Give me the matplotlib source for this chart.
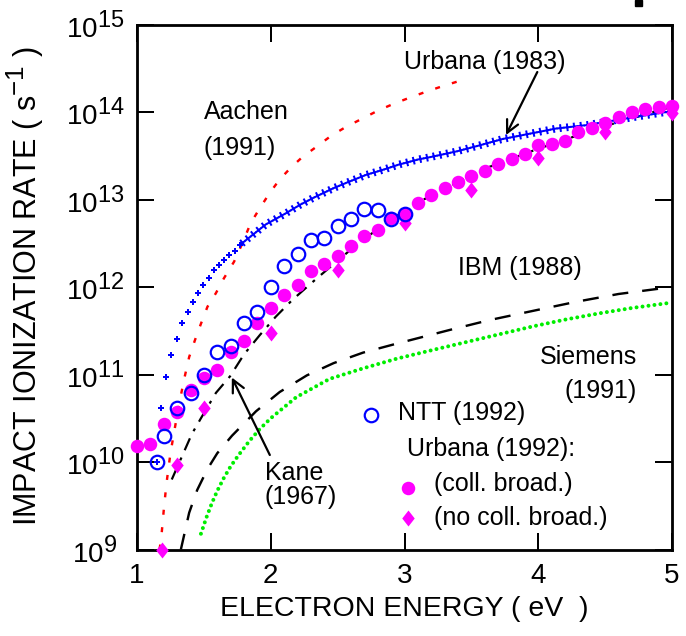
import numpy as np
import matplotlib
matplotlib.use('Agg')
import matplotlib.pyplot as plt
import matplotlib._mathtext as _mt
from matplotlib import patheffects as pe
from matplotlib.ticker import FixedLocator, NullLocator, LogFormatterSciNotation
from matplotlib.patches import Rectangle

plt.rcParams['font.family'] = ['Liberation Sans', 'DejaVu Sans']
plt.rcParams['mathtext.fontset'] = 'custom'
plt.rcParams['mathtext.rm'] = 'Liberation Sans'
plt.rcParams['mathtext.it'] = 'Liberation Sans:italic'
plt.rcParams['mathtext.bf'] = 'Liberation Sans:bold'
plt.rcParams['lines.scale_dashes'] = False
_mt.SHRINK_FACTOR = 0.85  # larger superscripts, as in the original

# ---------------- data (energy in eV, rate as log10 of s^-1) ----------------
ntt_energy = [1.15, 1.2, 1.3, 1.4, 1.5, 1.6, 1.7, 1.8, 1.9, 2.0,
              2.1, 2.2, 2.3, 2.4, 2.5, 2.6, 2.7, 2.8, 2.9, 3.0]
ntt_log_rate = [10.00, 10.30, 10.62, 10.79, 10.99, 11.26, 11.33, 11.59, 11.71, 12.00,
                12.24, 12.38, 12.54, 12.56, 12.70, 12.78, 12.89, 12.88, 12.78, 12.84]

coll_energy = [1.0, 1.1, 1.2, 1.3, 1.4, 1.5, 1.6, 1.7, 1.8, 1.9,
               2.0, 2.1, 2.2, 2.3, 2.4, 2.5, 2.6, 2.7, 2.8, 2.9,
               3.0, 3.1, 3.2, 3.3, 3.4, 3.5, 3.6, 3.7, 3.8, 3.9,
               4.0, 4.1, 4.2, 4.3, 4.4, 4.5, 4.6, 4.7, 4.8, 4.9, 5.0]
coll_log_rate = [10.18, 10.21, 10.44, 10.57, 10.82, 10.96, 11.05, 11.26, 11.38, 11.59,
                 11.76, 11.91, 12.02, 12.18, 12.26, 12.35, 12.47, 12.58, 12.65, 12.79,
                 12.84, 12.96, 13.05, 13.13, 13.20, 13.27, 13.33, 13.41, 13.46, 13.52,
                 13.62, 13.64, 13.67, 13.77, 13.82, 13.88, 13.94, 14.00, 14.04, 14.06, 14.07]

nocoll_energy = [1.19, 1.3, 1.5, 2.0, 2.5, 3.0, 3.5, 4.0, 4.5, 5.0]
nocoll_log_rate = [9.0, 9.96, 10.62, 11.47, 12.20, 12.73, 13.11, 13.48, 13.77, 13.99]

urb83_energy = [1.15, 1.18, 1.215, 1.254, 1.296, 1.338, 1.378, 1.42, 1.457, 1.494,
                1.539, 1.576, 1.614, 1.651, 1.688, 1.731, 1.769, 1.963, 2.11, 2.22,
                2.32, 2.47, 2.58, 2.71, 2.84, 2.96, 3.11, 3.21, 3.39, 3.54,
                3.73, 4.13, 4.36, 4.75, 5.0]
urb83_log_rate = [10.00, 10.62, 10.975, 11.22, 11.41, 11.585, 11.71, 11.83, 11.93, 12.02,
                  12.10, 12.19, 12.25, 12.31, 12.37, 12.415, 12.48, 12.715, 12.84, 12.94,
                  13.02, 13.13, 13.20, 13.28, 13.34, 13.40, 13.46, 13.49, 13.55, 13.61,
                  13.69, 13.81, 13.85, 13.95, 14.01]
urb83_n_marked = 17  # leading points drawn as individual plus markers

aachen_energy = [1.168, 1.18, 1.20, 1.22, 1.25, 1.29, 1.32, 1.353, 1.39, 1.435,
                 1.478, 1.527, 1.59, 1.65, 1.726, 1.788, 1.85, 1.918, 1.99, 2.067,
                 2.154, 2.24, 2.353, 2.453, 2.565, 2.689, 2.80, 2.913, 3.037, 3.149,
                 3.274, 3.40]
aachen_log_rate = [9.0, 9.11, 9.45, 9.75, 10.1, 10.45, 10.7, 10.95, 11.2, 11.40,
                   11.58, 11.775, 11.93, 12.10, 12.29, 12.5, 12.73, 12.90, 13.07, 13.23,
                   13.37, 13.49, 13.615, 13.73, 13.832, 13.928, 14.015, 14.09, 14.163, 14.225,
                   14.29, 14.35]

kane_energy = [1.26, 1.41, 1.478, 1.59, 1.696, 1.80, 1.918, 2.037, 2.16, 2.30,
               2.43, 2.577, 2.714, 2.863, 3.04, 3.35, 3.63, 4.0, 4.5, 5.0]
kane_log_rate = [9.8, 10.32, 10.5, 10.79, 10.98, 11.23, 11.45, 11.66, 11.85, 12.04,
                 12.21, 12.40, 12.57, 12.72, 12.92, 13.16, 13.37, 13.58, 13.84, 14.06]

ibm_energy = [1.328, 1.39, 1.45, 1.527, 1.60, 1.71, 1.89, 2.067, 2.27, 2.47,
              2.69, 2.91, 3.34, 3.63, 4.0, 4.28, 4.60, 5.0]
ibm_log_rate = [9.0, 9.42, 9.68, 9.92, 10.10, 10.30, 10.58, 10.80, 10.99, 11.13,
                11.25, 11.34, 11.51, 11.62, 11.74, 11.83, 11.92, 12.0]

siemens_energy = [1.478, 1.52, 1.56, 1.60, 1.65, 1.70, 1.76, 1.84, 1.92, 2.0,
                  2.19, 2.44, 2.69, 2.94, 3.21, 3.46, 3.71, 3.96, 4.21, 4.46,
                  4.70, 4.99]
siemens_log_rate = [9.18, 9.37, 9.53, 9.67, 9.82, 9.95, 10.08, 10.24, 10.38, 10.50,
                    10.74, 10.95, 11.07, 11.18, 11.28, 11.37, 11.46, 11.55, 11.63, 11.70,
                    11.76, 11.82]

x_ticks = [1, 2, 3, 4, 5]
y_tick_exponents = [9, 10, 11, 12, 13, 14, 15]


def rate(v):
    return np.power(10.0, np.asarray(v, dtype=float))


# ---------------- figure ----------------
PX = 0.72  # points per pixel at dpi 100
fig = plt.figure(figsize=(6.86, 6.36), dpi=100)
ax = fig.add_axes([137 / 686, 1 - 549.5 / 636, 535 / 686, 525 / 636])
ax.set_yscale('log')
ax.set_xlim(1, 5)
ax.set_ylim(1e9, 1e15)

BLUE = '#0000ff'
MAG = '#ff00ff'
RED = '#ff0000'
GREEN = '#00ee00'

# Aachen (1991): red short dashes
ax.plot(aachen_energy, rate(aachen_log_rate), color=RED, lw=2.4 * PX,
        ls=(0, (5 * PX, 12.5 * PX)), dash_capstyle='butt', zorder=2)

# Siemens (1991): green dots
ax.plot(siemens_energy, rate(siemens_log_rate), color=GREEN, lw=4 * PX,
        ls=(0, (0.01, 6 * PX)), dash_capstyle='round', zorder=2)

# IBM (1988): long dashes
ax.plot(ibm_energy, rate(ibm_log_rate), color='black', lw=2.4 * PX,
        ls=(0, (16 * PX, 14 * PX)), zorder=2)

# Kane (1967): dash-dot
ax.plot(kane_energy, rate(kane_log_rate), color='black', lw=2.2 * PX,
        ls=(0, (13 * PX, 8 * PX, 3 * PX, 8 * PX)), zorder=2)

# Urbana (1983): plus-marked curve
n = urb83_n_marked
ax.plot(urb83_energy[:n], rate(urb83_log_rate[:n]), ls='none', marker='+',
        ms=6 * PX, mew=2.0 * PX, color=BLUE, zorder=3)
plus_fx = [pe.TickedStroke(spacing=6.8 * PX, angle=a, length=0.42,
                           linewidth=2.0 * PX, foreground=BLUE)
           for a in (0, 90, 180, 270)]
ax.plot(urb83_energy[n - 1:], rate(urb83_log_rate[n - 1:]), color=BLUE,
        lw=2.0 * PX, path_effects=plus_fx, zorder=3)

# NTT (1992): open blue circles
ax.plot(ntt_energy, rate(ntt_log_rate), ls='none', marker='o', ms=13.5 * PX,
        mfc='none', mec=BLUE, mew=2.2 * PX, zorder=5, clip_on=False)

# Urbana (1992): filled magenta circles and diamonds
diamond = [(0, 1), (0.78, 0), (0, -1), (-0.78, 0), (0, 1)]
ax.plot(coll_energy, rate(coll_log_rate), ls='none', marker='o', ms=13.5 * PX,
        mfc=MAG, mec=MAG, mew=0, zorder=4, clip_on=False)
ax.plot(nocoll_energy, rate(nocoll_log_rate), ls='none', marker=diamond, ms=16 * PX,
        mfc=MAG, mec=MAG, mew=0, zorder=4, clip_on=False)

# ---------------- axes styling ----------------
ax.xaxis.set_major_locator(FixedLocator(x_ticks))
ax.set_xticklabels([str(t) for t in x_ticks])
ax.yaxis.set_major_locator(FixedLocator(rate(y_tick_exponents)))
ax.yaxis.set_major_formatter(LogFormatterSciNotation())
ax.yaxis.set_minor_locator(NullLocator())
ax.xaxis.set_minor_locator(NullLocator())
ax.tick_params(which='major', direction='in', length=17 * PX, width=2.0 * PX,
               top=True, right=True, labelsize=20, color='black')
ax.tick_params(axis='x', pad=10)
ax.tick_params(axis='y', pad=42 * PX)
for lab in ax.get_yticklabels():
    lab.set_horizontalalignment('center')
for s in ax.spines.values():
    s.set_linewidth(2.8 * PX)

ax.set_xlabel('ELECTRON ENERGY ( eV  )', fontsize=20.5)
ax.set_ylabel('IMPACT IONIZATION RATE ( s$^{-1}$ )', fontsize=22)
ax.xaxis.set_label_coords(0.5, -(596 - 549.5) / 525)
ax.yaxis.set_label_coords(-(137 - 46) / 535, 0.502)

# ---------------- annotations ----------------
TS = 18
ax.text(1.50, rate(14.0), 'Aachen', fontsize=TS, ha='left', va='center')
ax.text(1.50, rate(13.589), '(1991)', fontsize=TS, ha='left', va='center')
ax.text(3.0, rate(14.571), 'Urbana (1983)', fontsize=TS, ha='left', va='center')
ax.text(3.403, rate(12.217), 'IBM (1988)', fontsize=TS, ha='left', va='center')
ax.text(4.739, rate(11.2), 'Siemens', fontsize=TS, ha='right', va='center')
ax.text(4.739, rate(10.811), '(1991)', fontsize=TS, ha='right', va='center')
ax.text(1.955, rate(9.874), 'Kane', fontsize=TS, ha='left', va='center')
ax.text(1.955, rate(9.60), '(1967)', fontsize=TS, ha='left', va='center')

arrow = dict(arrowstyle='->', lw=1.6, color='black', mutation_scale=22,
             shrinkA=0, shrinkB=0)
ax.annotate('', xy=(3.759, rate(13.737)), xytext=(3.993, rate(14.457)),
            arrowprops=arrow)
ax.annotate('', xy=(1.709, rate(10.966)), xytext=(1.993, rate(10.08)),
            arrowprops=arrow)

# legend (drawn by hand to match the layout)
ax.plot([2.751], [rate(10.537)], ls='none', marker='o', ms=13.5 * PX,
        mfc='none', mec=BLUE, mew=2.2 * PX)
ax.text(2.948, rate(10.56), 'NTT (1992)', fontsize=TS, ha='left', va='center')
ax.text(3.022, rate(10.15), 'Urbana (1992):', fontsize=TS, ha='left', va='center')
ax.plot([3.025], [rate(9.70)], ls='none', marker='o', ms=13.5 * PX,
        mfc=MAG, mec=MAG, mew=0)
ax.text(3.224, rate(9.75), '(coll. broad.)', fontsize=TS, ha='left', va='center')
ax.plot([3.025], [rate(9.357)], ls='none', marker=diamond, ms=16 * PX,
        mfc=MAG, mec=MAG, mew=0)
ax.text(3.224, rate(9.36), '(no coll. broad.)', fontsize=TS, ha='left', va='center')

# small cut-off glyph at top edge of the original figure
fig.patches.append(Rectangle((635 / 686, 1 - 6 / 636), 7 / 686, 6 / 636,
                             transform=fig.transFigure, color='black'))

fig.savefig('out.png', dpi=100)
